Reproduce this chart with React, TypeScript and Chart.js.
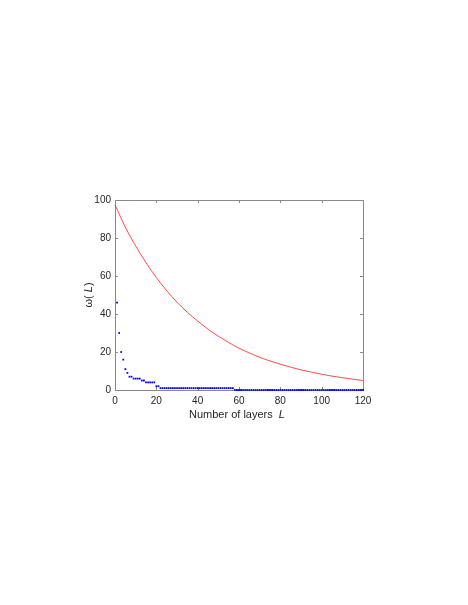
import React, { useEffect, useRef } from "react";
import { Chart, registerables } from "chart.js";

Chart.register(...registerables);

// Smooth (red) curve: layers L and omega values
const redL = [0, 5, 10, 15, 20, 25, 30, 35, 40, 45, 50, 55, 60, 65, 70, 75, 80, 85, 90, 95, 100, 105, 110, 115, 120];
const redValues = [97.5, 85.7, 75.8, 67.0, 59.2, 52.3, 46.2, 40.9, 36.3, 32.0, 28.3, 25.0, 22.0, 19.5, 17.2, 15.3, 13.6, 12.0, 10.6, 9.4, 8.3, 7.3, 6.5, 5.7, 5.0];

// Dotted (blue) series: one value per layer L = 1..120
const blueL = [
  1, 2, 3, 4, 5, 6, 7, 8, 9, 10, 11, 12, 13, 14, 15, 16, 17, 18, 19, 20,
  21, 22, 23, 24, 25, 26, 27, 28, 29, 30, 31, 32, 33, 34, 35, 36, 37, 38, 39, 40,
  41, 42, 43, 44, 45, 46, 47, 48, 49, 50, 51, 52, 53, 54, 55, 56, 57, 58, 59, 60,
  61, 62, 63, 64, 65, 66, 67, 68, 69, 70, 71, 72, 73, 74, 75, 76, 77, 78, 79, 80,
  81, 82, 83, 84, 85, 86, 87, 88, 89, 90, 91, 92, 93, 94, 95, 96, 97, 98, 99, 100,
  101, 102, 103, 104, 105, 106, 107, 108, 109, 110, 111, 112, 113, 114, 115, 116, 117, 118, 119, 120,
];
const blueValues = [
  46, 30, 20, 16, 11, 9, 7, 7, 6, 6, 6, 6, 5, 5, 4, 4, 4, 4, 4, 2,
  2, 1, 1, 1, 1, 1, 1, 1, 1, 1, 1, 1, 1, 1, 1, 1, 1, 1, 1, 1,
  1, 1, 1, 1, 1, 1, 1, 1, 1, 1, 1, 1, 1, 1, 1, 1, 1, 0, 0, 0,
  0, 0, 0, 0, 0, 0, 0, 0, 0, 0, 0, 0, 0, 0, 0, 0, 0, 0, 0, 0,
  0, 0, 0, 0, 0, 0, 0, 0, 0, 0, 0, 0, 0, 0, 0, 0, 0, 0, 0, 0,
  0, 0, 0, 0, 0, 0, 0, 0, 0, 0, 0, 0, 0, 0, 0, 0, 0, 0, 0, 0,
];

const xTitleMain = "Number of layers  ";
const xTitleItalic = "L";
const yTitleParts = ["ω(", " L", ")"];

const FONT = "'Liberation Sans', Arial, Helvetica, sans-serif";
const TEXT = "#262626";

const boxPlugin = {
  id: "matlabBox",
  beforeDatasetsDraw(chart: any) {
    const { ctx, chartArea: a, scales } = chart;
    const xs = scales.x;
    const ys = scales.y;
    ctx.save();
    ctx.strokeStyle = "#8a8a8a";
    ctx.lineWidth = 1;
    ctx.strokeRect(Math.round(a.left) + 0.5, Math.round(a.top) + 0.5, Math.round(a.right - a.left), Math.round(a.bottom - a.top));
    const tl = 3;
    ctx.beginPath();
    xs.ticks.forEach((t: any) => {
      const p = Math.round(xs.getPixelForValue(t.value)) + 0.5;
      ctx.moveTo(p, a.bottom);
      ctx.lineTo(p, a.bottom - tl);
      ctx.moveTo(p, a.top);
      ctx.lineTo(p, a.top + tl);
    });
    ys.ticks.forEach((t: any) => {
      const p = Math.round(ys.getPixelForValue(t.value)) + 0.5;
      ctx.moveTo(a.left, p);
      ctx.lineTo(a.left + tl, p);
      ctx.moveTo(a.right, p);
      ctx.lineTo(a.right - tl, p);
    });
    ctx.stroke();
    ctx.restore();
  },
  afterDraw(chart: any) {
    const { ctx, chartArea: a } = chart;
    ctx.save();
    ctx.fillStyle = TEXT;
    ctx.textBaseline = "alphabetic";
    ctx.textAlign = "left";
    const normal = `11px ${FONT}`;
    const italic = `italic 11px ${FONT}`;
    ctx.font = normal;
    const w1 = ctx.measureText(xTitleMain).width;
    ctx.font = italic;
    const w2 = ctx.measureText(xTitleItalic).width;
    const cx = (a.left + a.right) / 2 - 2;
    const sx = cx - (w1 + w2) / 2;
    ctx.font = normal;
    ctx.fillText(xTitleMain, sx, a.bottom + 28);
    ctx.font = italic;
    ctx.fillText(xTitleItalic, sx + w1, a.bottom + 28);

    const fonts = [normal, italic, normal];
    let total = 0;
    const widths = yTitleParts.map((s, i) => {
      ctx.font = fonts[i];
      const w = ctx.measureText(s).width;
      total += w;
      return w;
    });
    ctx.translate(a.left - 23, (a.top + a.bottom) / 2);
    ctx.rotate(-Math.PI / 2);
    let px = -total / 2;
    yTitleParts.forEach((s, i) => {
      ctx.font = fonts[i];
      ctx.fillText(s, px, 0);
      px += widths[i];
    });
    ctx.restore();
  },
};

export default function App() {
  const ref = useRef<HTMLCanvasElement>(null);
  useEffect(() => {
    if (!ref.current) return;
    const chart = new Chart(ref.current, {
      type: "scatter",
      data: {
        datasets: [
          {
            label: "red",
            data: redL.map((l, i) => ({ x: l, y: redValues[i] })),
            showLine: true,
            borderColor: "#ff2020",
            borderWidth: 0.8,
            pointRadius: 0,
            cubicInterpolationMode: "monotone",
            clip: 5,
          } as any,
          {
            label: "blue",
            data: blueL.map((l, i) => ({ x: l, y: blueValues[i] })),
            showLine: false,
            pointStyle: "rect",
            pointRadius: 1.25,
            borderWidth: 0,
            backgroundColor: "#0000ff",
            borderColor: "#0000ff",
            clip: 5,
          } as any,
        ],
      },
      options: {
        animation: false,
        responsive: false,
        events: [],
        layout: { padding: { left: 0, top: 200, right: 105, bottom: 185 } },
        plugins: { legend: { display: false }, tooltip: { enabled: false } },
        scales: {
          x: {
            type: "linear",
            min: 0,
            max: 120,
            grid: { display: false, drawTicks: false },
            border: { display: false },
            ticks: { stepSize: 20, padding: 5, color: TEXT, font: { size: 10, family: FONT } },
            afterFit: (s: any) => { s.height = 30; },
          },
          y: {
            type: "linear",
            min: 0,
            max: 100,
            grid: { display: false, drawTicks: false },
            border: { display: false },
            ticks: { stepSize: 20, padding: 4, color: TEXT, font: { size: 10, family: FONT } },
            afterFit: (s: any) => { s.width = 115; },
          },
        },
      },
      plugins: [boxPlugin],
    });
    return () => chart.destroy();
  }, []);
  return (
    <div style={{ position: "absolute", left: 0, top: 0, width: 468, height: 605, background: "#fff" }}>
      <canvas ref={ref} width={468} height={605} style={{ display: "block" }} />
    </div>
  );
}
